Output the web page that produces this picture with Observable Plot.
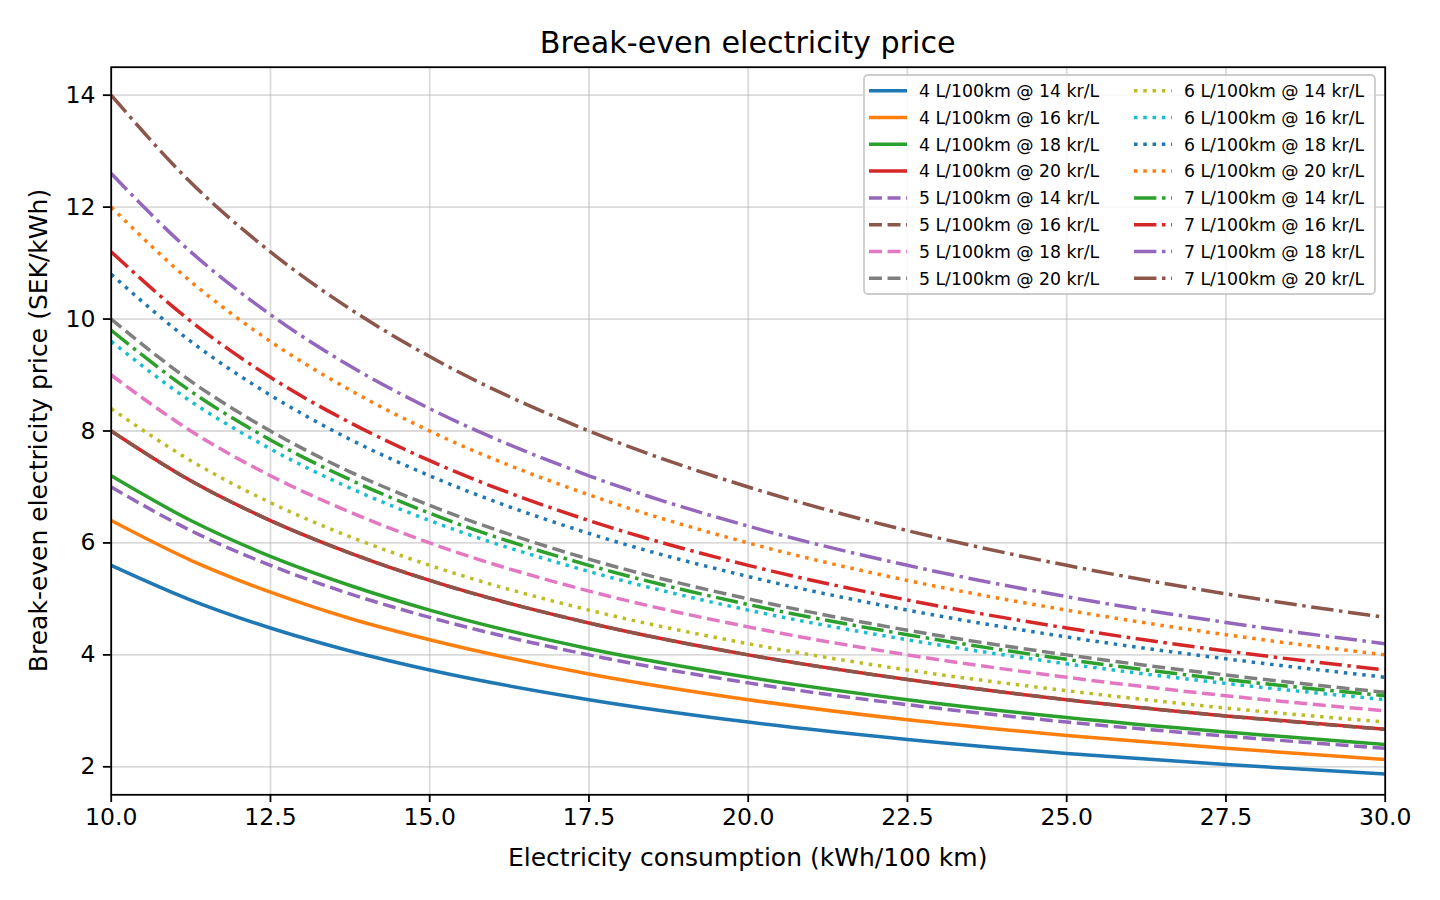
<!DOCTYPE html>
<html>
<head>
<meta charset="utf-8">
<script src="https://cdn.jsdelivr.net/npm/d3@7"></script>
<script src="https://cdn.jsdelivr.net/npm/@observablehq/plot@0.6"></script>
<style>
  html, body { margin: 0; padding: 0; background: white; }
  #chart svg { display: block; }
</style>
</head>
<body>
<div id="chart"></div>
<script>
// ---- Data ----
const fuelUse = [4, 5, 6, 7];            // L/100km
const fuelPrices = [14, 16, 18, 20];     // kr/L
const consumption = [10, 11.25, 12.5, 13.75, 15, 17.5, 20, 22.5, 25, 27.5, 30]; // kWh/100 km

// break-even price (SEK/kWh) per fuel use, one row per fuel price
const fuel4L = [
  [5.6, 4.98, 4.48, 4.07, 3.73, 3.2, 2.8, 2.49, 2.24, 2.04, 1.87],
  [6.4, 5.69, 5.12, 4.65, 4.27, 3.66, 3.2, 2.84, 2.56, 2.33, 2.13],
  [7.2, 6.4, 5.76, 5.24, 4.8, 4.11, 3.6, 3.2, 2.88, 2.62, 2.4],
  [8.0, 7.11, 6.4, 5.82, 5.33, 4.57, 4.0, 3.56, 3.2, 2.91, 2.67]
];
const fuel5L = [
  [7.0, 6.22, 5.6, 5.09, 4.67, 4.0, 3.5, 3.11, 2.8, 2.55, 2.33],
  [8.0, 7.11, 6.4, 5.82, 5.33, 4.57, 4.0, 3.56, 3.2, 2.91, 2.67],
  [9.0, 8.0, 7.2, 6.55, 6.0, 5.14, 4.5, 4.0, 3.6, 3.27, 3.0],
  [10.0, 8.89, 8.0, 7.27, 6.67, 5.71, 5.0, 4.44, 4.0, 3.64, 3.33]
];
const fuel6L = [
  [8.4, 7.47, 6.72, 6.11, 5.6, 4.8, 4.2, 3.73, 3.36, 3.05, 2.8],
  [9.6, 8.53, 7.68, 6.98, 6.4, 5.49, 4.8, 4.27, 3.84, 3.49, 3.2],
  [10.8, 9.6, 8.64, 7.85, 7.2, 6.17, 5.4, 4.8, 4.32, 3.93, 3.6],
  [12.0, 10.67, 9.6, 8.73, 8.0, 6.86, 6.0, 5.33, 4.8, 4.36, 4.0]
];
const fuel7L = [
  [9.8, 8.71, 7.84, 7.13, 6.53, 5.6, 4.9, 4.36, 3.92, 3.56, 3.27],
  [11.2, 9.96, 8.96, 8.15, 7.47, 6.4, 5.6, 4.98, 4.48, 4.07, 3.73],
  [12.6, 11.2, 10.08, 9.16, 8.4, 7.2, 6.3, 5.6, 5.04, 4.58, 4.2],
  [14.0, 12.44, 11.2, 10.18, 9.33, 8.0, 7.0, 6.22, 5.6, 5.09, 4.67]
];
const xTicks = [10, 12.5, 15, 17.5, 20, 22.5, 25, 27.5, 30];
const yTicks = [2, 4, 6, 8, 10, 12, 14];

// ---- Styles ----
const tab10 = ["#1f77b4", "#ff7f0e", "#2ca02c", "#d62728", "#9467bd",
               "#8c564b", "#e377c2", "#7f7f7f", "#bcbd22", "#17becf"];
const LW = 3.5;
const dashes = [null, `${3.7*LW},${1.6*LW}`, `${1*LW},${1.65*LW}`, `${6.4*LW},${1.6*LW},${1*LW},${1.6*LW}`];

const groups = [fuel4L, fuel5L, fuel6L, fuel7L];
const series = [];
groups.forEach((grp, gi) => {
  grp.forEach((vals, pi) => {
    const idx = gi * 4 + pi;
    series.push({
      name: `${fuelUse[gi]} L/100km @ ${fuelPrices[pi]} kr/L`,
      color: tab10[idx % 10],
      dash: dashes[gi],
      rows: consumption.map((c, j) => ({x: c, y: vals[j]}))
    });
  });
});

const W = 1440, H = 900;
const mL = 110.7, mR = 55.3, mT = 66.7, mB = 105.7;

const lineMarks = series.map(s => Plot.line(s.rows, {
  x: "x", y: "y", stroke: s.color, strokeWidth: LW,
  strokeDasharray: s.dash || undefined,
  strokeLinecap: "butt", strokeLinejoin: "round",
  curve: "monotone-x", clip: true
}));

const chart = Plot.plot({
  width: W, height: H,
  marginLeft: mL, marginRight: mR, marginTop: mT, marginBottom: mB,
  style: {fontFamily: "'DejaVu Sans', sans-serif", fontSize: "23.5px", background: "white", color: "black"},
  x: {domain: [10, 30]},
  y: {domain: [1.5, 14.5]},
  marks: [
    Plot.gridX(xTicks, {stroke: "#b0b0b0", strokeOpacity: 0.45, strokeWidth: 1.8}),
    Plot.gridY(yTicks, {stroke: "#b0b0b0", strokeOpacity: 0.45, strokeWidth: 1.8}),
    ...lineMarks,
    Plot.frame({stroke: "black", strokeWidth: 1.8}),
    Plot.axisX(xTicks, {tickSize: 7.8, tickPadding: 6, strokeWidth: 1.8, tickFormat: d3.format(".1f"), label: null, fontSize: 23.5}),
    Plot.axisY(yTicks, {tickSize: 7.8, tickPadding: 8, strokeWidth: 1.8, tickFormat: d3.format("d"), label: null, fontSize: 23.5})
  ]
});

document.getElementById("chart").appendChild(chart);

const svg = d3.select(chart);
const cx = (mL + (W - mR)) / 2;
const font = "'DejaVu Sans', sans-serif";

// Title
svg.append("text").attr("x", cx).attr("y", 52.7).attr("text-anchor", "middle")
  .attr("font-family", font).attr("font-size", 30.2).attr("fill", "black")
  .text("Break-even electricity price");
// X label
svg.append("text").attr("x", cx).attr("y", 866).attr("text-anchor", "middle")
  .attr("font-family", font).attr("font-size", 25).attr("fill", "black")
  .text("Electricity consumption (kWh/100 km)");
// Y label
svg.append("text").attr("transform", `translate(46.5,${(mT + (H - mB)) / 2}) rotate(-90)`)
  .attr("text-anchor", "middle")
  .attr("font-family", font).attr("font-size", 25).attr("fill", "black")
  .text("Break-even electricity price (SEK/kWh)");

// Legend (upper right, two columns)
const lg = svg.append("g");
const bx = 864, by = 75, bw = 511, bh = 219;
lg.append("rect").attr("x", bx).attr("y", by).attr("width", bw).attr("height", bh)
  .attr("rx", 4).attr("fill", "white").attr("fill-opacity", 0.8)
  .attr("stroke", "#cccccc").attr("stroke-width", 1.8);
const rowY0 = 90.7, rowDy = 26.8;
const cols = [{hx: 869, tx: 919}, {hx: 1134, tx: 1184}];
series.forEach((s, i) => {
  const col = cols[Math.floor(i / 8)];
  const yy = rowY0 + (i % 8) * rowDy;
  lg.append("line").attr("x1", col.hx).attr("x2", col.hx + 38).attr("y1", yy).attr("y2", yy)
    .attr("stroke", s.color).attr("stroke-width", LW)
    .attr("stroke-dasharray", s.dash || null).attr("stroke-linecap", "butt");
  lg.append("text").attr("x", col.tx).attr("y", yy + 6.3)
    .attr("text-anchor", "start")
    .attr("font-family", font).attr("font-size", 17.3).attr("fill", "black")
    .text(s.name);
});
</script>
</body>
</html>
